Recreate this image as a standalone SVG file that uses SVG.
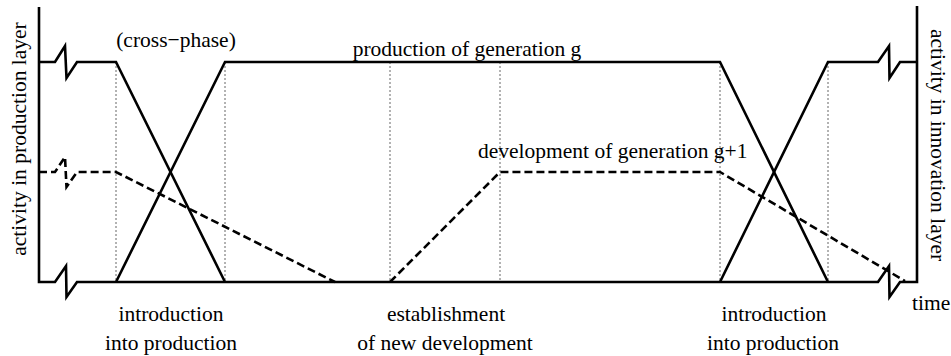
<svg xmlns="http://www.w3.org/2000/svg" width="951" height="356" viewBox="0 0 951 356">
<style>
text{font-family:"Liberation Serif","Times New Roman",serif;font-size:21.5px;fill:#000}
.axis{fill:none;stroke:#000;stroke-width:2.6;stroke-linejoin:miter}
.solid{fill:none;stroke:#000;stroke-width:2.6;stroke-linejoin:miter}
.dash{fill:none;stroke:#000;stroke-width:2.6;stroke-dasharray:8 4}
.dot{fill:none;stroke:#666;stroke-width:1;stroke-dasharray:2 2}
</style>
<rect width="951" height="356" fill="#fff"/>
<g id="guides">
<line class="dot" x1="116" y1="62" x2="116" y2="282"/>
<line class="dot" x1="225" y1="62" x2="225" y2="282"/>
<line class="dot" x1="390" y1="62" x2="390" y2="282"/>
<line class="dot" x1="500" y1="62" x2="500" y2="282"/>
<line class="dot" x1="720" y1="62" x2="720" y2="282"/>
<line class="dot" x1="828" y1="62" x2="828" y2="282"/>
</g>
<g id="axes">
<polyline class="axis" points="39,7 39,282 55,282 66,266 66.5,297 77,282 878,282 889,266 889.5,297 900,282 917,282 917,6"/>
</g>
<g id="connectors">
<polyline id="production-g" class="solid" points="39,62 55,62 65,46 66.5,78 77,62 116,62 225,282"/>
<polyline id="production-main" class="solid" points="116,282 225,62 720,62 828,282"/>
<polyline id="production-next" class="solid" points="720,282 828,62 878,62 889,46 889.5,78 900,62 917,62"/>
<polyline id="development" class="dash" points="39,172 55,172 65,157 66.5,187 77,172 116,172 335,282"/>
<polyline id="development-next" class="dash" points="390,282 500,172 720,172 905,281"/>
</g>
<g id="labels">
<text x="176" y="47" text-anchor="middle">(cross−phase)</text>
<text x="467" y="56" text-anchor="middle">production of generation g</text>
<text x="478" y="158">development of generation g+1</text>
<text x="171" y="321" text-anchor="middle">introduction</text>
<text x="171" y="350" text-anchor="middle">into production</text>
<text x="446" y="321" text-anchor="middle">establishment</text>
<text x="445" y="350" text-anchor="middle">of new development</text>
<text x="774" y="321" text-anchor="middle">introduction</text>
<text x="773" y="350" text-anchor="middle">into production</text>
<text x="912" y="310">time</text>
<text transform="translate(26,139) rotate(-90)" text-anchor="middle">activity in production layer</text>
<text transform="translate(931,145) rotate(90)" text-anchor="middle">activity in innovation layer</text>
</g>
</svg>
